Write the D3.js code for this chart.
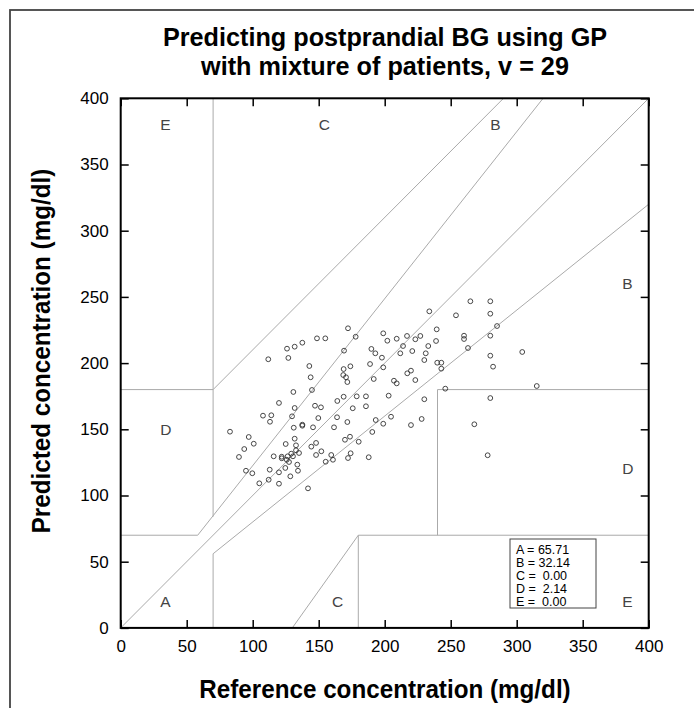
<!DOCTYPE html>
<html lang="en">
<head>
<meta charset="UTF-8">
<script src="https://d3js.org/d3.v7.min.js"></script>
<title>Clarke error grid</title>
<style>
    body { margin: 0; background: #fff; }
    svg { display: block; }
    .tick text { font-family: "Liberation Sans", Arial, sans-serif; font-size: 17px; fill: #000; }
    .tick line { stroke: #000; stroke-width: 1.5; }
</style>
</head>
<body>
<svg width="694" height="708"></svg>
<script>
    // reference (x) and predicted (y) BG, mg/dl
    const refBG = [
        111.8, 126.0, 131.8, 137.6, 148.7, 155.0, 127.0, 142.9, 143.9, 130.8, 144.9,
        233.8, 172.2, 178.0, 169.2, 198.9, 202.0, 209.1, 216.9, 223.2, 227.0, 239.4, 238.9,
        233.0, 213.9, 220.9, 211.8, 231.1, 230.0, 189.9, 192.9, 197.9, 188.9, 198.9, 168.9,
        174.0, 168.6, 170.7, 171.7, 191.7, 207.0, 209.1, 219.9, 217.1, 223.2, 239.8,
        264.9, 280.0, 254.0, 280.0, 285.1, 260.1, 260.1, 280.0, 263.1, 280.0, 304.2, 282.1,
        242.9, 242.9, 245.9, 315.2,
        119.9, 131.8, 147.2, 151.7, 107.8, 114.1, 113.1, 129.8, 149.7, 82.8, 131.1, 137.6,
        137.6, 145.7, 97.0, 100.8, 93.6, 89.6, 125.0, 131.8, 132.8, 132.8, 135.1, 129.2,
        126.5, 130.5, 115.9, 122.0, 122.0, 125.8, 127.5, 124.7, 133.8, 134.3, 144.4, 148.0,
        148.0, 152.0, 159.5, 155.3, 112.9, 119.9, 94.9, 99.7, 112.1, 105.0, 119.9, 128.5, 141.9,
        164.1, 168.9, 178.8, 185.8, 203.0, 230.0, 175.8, 185.8, 163.9, 161.6, 171.7, 193.2,
        204.8, 198.9, 219.9, 228.0, 190.6, 169.9, 173.7, 180.3, 160.8, 174.2, 172.2, 187.9,
        280.0, 267.9, 278.0
    ]
    const predBG = [
        202.9, 210.9, 212.4, 215.4, 218.7, 218.7, 203.9, 197.8, 189.3, 178.2, 179.7,
        239.1, 226.3, 219.9, 209.4, 222.5, 216.9, 218.4, 220.5, 218.0, 220.5, 225.5, 216.7,
        212.9, 212.9, 209.1, 207.4, 207.4, 202.3, 210.7, 207.4, 204.1, 199.3, 196.8, 195.5,
        197.6, 191.0, 189.3, 185.7, 188.0, 186.7, 184.7, 194.3, 192.3, 187.2, 200.3,
        246.7, 246.7, 236.1, 237.3, 228.0, 220.7, 218.2, 220.7, 211.4, 205.6, 208.4, 197.3,
        200.3, 195.8, 180.7, 182.7,
        169.9, 166.1, 167.8, 166.6, 160.3, 160.6, 155.7, 159.8, 158.5, 148.2, 151.2, 153.5,
        152.7, 151.5, 144.2, 139.1, 135.1, 129.1, 138.9, 142.9, 137.9, 134.1, 132.1, 131.6,
        129.6, 129.6, 129.6, 129.3, 128.1, 127.0, 125.3, 120.8, 123.3, 118.7, 136.9, 139.7,
        130.6, 133.4, 130.6, 125.5, 119.5, 117.5, 118.7, 116.8, 111.9, 109.2, 108.9, 114.5, 105.4,
        171.4, 174.6, 174.9, 174.9, 175.4, 172.7, 165.9, 167.4, 159.1, 151.5, 155.5, 157.0,
        159.5, 154.2, 153.2, 157.8, 148.0, 142.1, 144.4, 140.6, 127.0, 131.9, 128.3, 128.9,
        173.6, 153.8, 130.4
    ]

    // Clarke zone boundaries [x1, y1, x2, y2]
    const zoneLines = [
        [0, 0, 400, 400],
        [0, 70, 175 / 3, 70],
        [175 / 3, 70, 320, 400],
        [70, 84, 70, 400],
        [0, 180, 70, 180],
        [70, 180, 290, 400],
        [70, 0, 70, 56],
        [70, 56, 400, 320],
        [180, 0, 180, 70],
        [180, 70, 400, 70],
        [240, 70, 240, 180],
        [240, 180, 400, 180],
        [130, 0, 180, 70]
    ]
    const zoneLabels = [
        ["A", 30, 20], ["D", 30, 150], ["E", 30, 380], ["C", 150, 380], ["C", 160, 20],
        ["E", 380, 20], ["D", 380, 120], ["B", 380, 260], ["B", 280, 380]
    ]
    const zoneNames = ["A", "B", "C", "D", "E"]
    const zonePct = [65.71, 32.14, 0.00, 2.14, 0.00]
    const ticks = [0, 50, 100, 150, 200, 250, 300, 350, 400]

    const svg = d3.select("svg")
    const x = d3.scaleLinear().domain([0, 400]).range([120.7, 648.7])
    const y = d3.scaleLinear().domain([0, 400]).range([627.9, 98.3])

    // outer frame of the figure
    svg.append("rect")
        .attr("x", 10).attr("y", 10).attr("width", 720).attr("height", 740)
        .attr("fill", "none").attr("stroke", "#444").attr("stroke-width", 1.8)

    // zone lines
    svg.append("g").selectAll("line")
        .data(zoneLines)
        .enter()
        .append("line")
        .attr("x1", d => x(d[0])).attr("y1", d => y(d[1]))
        .attr("x2", d => x(d[2])).attr("y2", d => y(d[3]))
        .attr("stroke", "#aaa").attr("stroke-width", 1)

    svg.append("g").selectAll("text")
        .data(zoneLabels)
        .enter()
        .append("text")
        .attr("x", d => x(d[1])).attr("y", d => y(d[2]))
        .attr("dy", "0.35em")
        .attr("font-family", "Liberation Sans, Arial, sans-serif")
        .attr("font-size", 15.5)
        .attr("fill", "#444")
        .text(d => d[0])

    // points
    svg.append("g").selectAll("circle")
        .data(refBG.map((v, i) => [v, predBG[i]]))
        .enter()
        .append("circle")
        .attr("cx", d => x(d[0]))
        .attr("cy", d => y(d[1]))
        .attr("r", 2.4)
        .attr("fill", "none")
        .attr("stroke", "#333")
        .attr("stroke-width", 0.9)

    // axes, ticks inward on all four sides
    svg.append("g").attr("transform", `translate(0,${y(0)})`)
        .call(d3.axisBottom(x).tickValues(ticks).tickSize(-8).tickPadding(12))
    svg.append("g").attr("transform", `translate(0,${y(400)})`)
        .call(d3.axisTop(x).tickValues(ticks).tickSize(-8).tickFormat(""))
    svg.append("g").attr("transform", `translate(${x(0)},0)`)
        .call(d3.axisLeft(y).tickValues(ticks).tickSize(-8).tickPadding(12))
    svg.append("g").attr("transform", `translate(${x(400)},0)`)
        .call(d3.axisRight(y).tickValues(ticks).tickSize(-8).tickFormat(""))
    svg.selectAll(".domain").remove()

    svg.append("rect")
        .attr("x", x(0)).attr("y", y(400))
        .attr("width", x(400) - x(0)).attr("height", y(0) - y(400))
        .attr("fill", "none").attr("stroke", "#000").attr("stroke-width", 2)

    // legend with zone percentages
    const lg = svg.append("g")
    lg.append("rect")
        .attr("x", 510).attr("y", 539).attr("width", 86).attr("height", 69)
        .attr("fill", "#fff").attr("stroke", "#444").attr("stroke-width", 1)
    lg.selectAll("text")
        .data(zoneNames)
        .enter()
        .append("text")
        .attr("x", 516)
        .attr("y", (d, i) => 553.5 + i * 13.1)
        .attr("font-family", "Liberation Sans, Arial, sans-serif")
        .attr("font-size", 12.5)
        .style("white-space", "pre")
        .text((d, i) => d + " = " + (zonePct[i] < 10 ? " " : "") + zonePct[i].toFixed(2))

    // titles, bold
    const bold = "Liberation Sans, Arial, sans-serif"
    const heading = (tf, size, txt) => svg.append("text")
        .attr("transform", tf)
        .attr("text-anchor", "middle")
        .attr("font-family", bold).attr("font-weight", "bold").attr("font-size", size)
        .text(txt)
    heading("translate(385,46) scale(0.97,1)", 26, "Predicting postprandial BG using GP")
    heading("translate(385,75) scale(0.97,1)", 26, "with mixture of patients, v = 29")
    heading("translate(385,698) scale(0.95,1)", 25.5, "Reference concentration (mg/dl)")
    heading("translate(50,351) rotate(-90) scale(0.95,1)", 25.5, "Predicted concentration (mg/dl)")
</script>
</body>
</html>
